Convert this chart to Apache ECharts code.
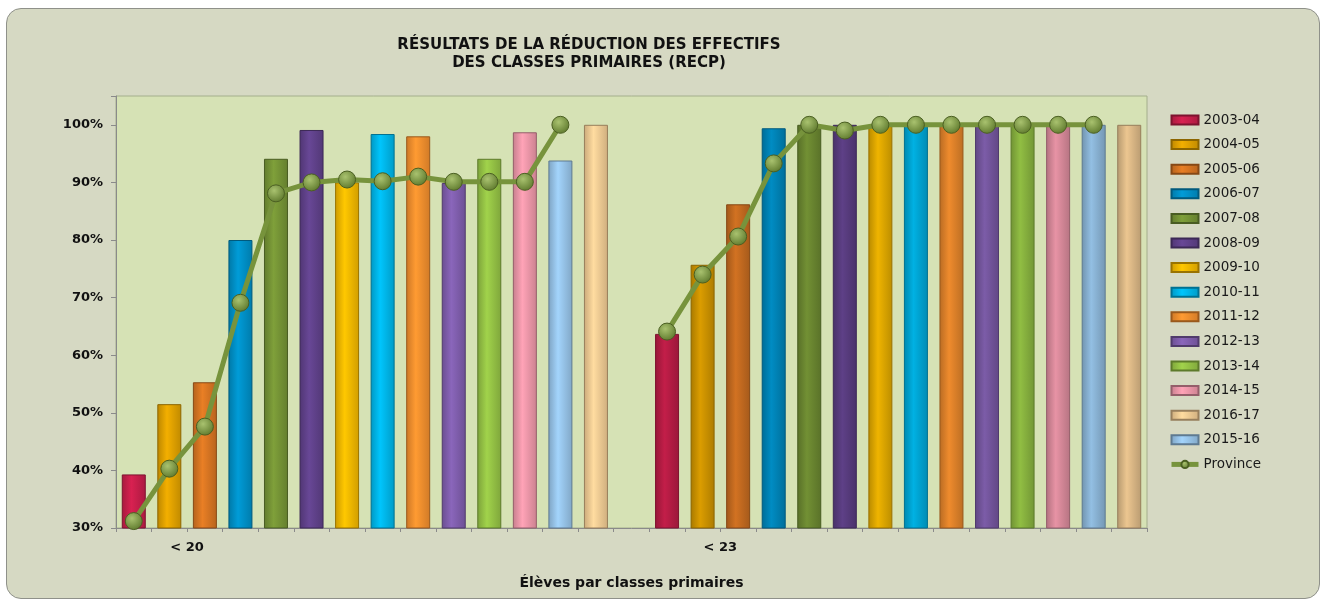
<!DOCTYPE html>
<html>
<head>
<meta charset="utf-8">
<title>RECP</title>
<script src="https://cdn.jsdelivr.net/npm/echarts@6/dist/echarts.min.js"></script>
<style>
	html, body {
		margin: 0;
		padding: 0;
		background: #ffffff;
	}
	.frame {
		position: absolute;
		left: 6px;
		top: 8px;
		width: 1312px;
		height: 589px;
		border: 1px solid #8f918a;
		border-radius: 15px;
		background: #d6d9c3;
	}
	#chart {
		position: absolute;
		left: 0;
		top: 0;
		width: 1325px;
		height: 600px;
	}
</style>
</head>
<body>
<div class="frame"></div>
<div id="chart"></div>
<script>
// années scolaires, dans l'ordre des barres
const seasons = ['2003-04', '2004-05', '2005-06', '2006-07', '2007-08', '2008-09', '2009-10',
	'2010-11', '2011-12', '2012-13', '2013-14', '2014-15', '2015-16', '2016-17'];
// ordre de la légende (comme dans l'original)
const legendOrder = ['2003-04', '2004-05', '2005-06', '2006-07', '2007-08', '2008-09', '2009-10',
	'2010-11', '2011-12', '2012-13', '2013-14', '2014-15', '2016-17', '2015-16', 'Province'];

// % de classes < 20 et < 23 élèves
const under20 = [39.3, 51.5, 55.3, 80.0, 94.1, 99.1, 90.0, 98.4, 98.0, 89.9, 94.1, 98.7, 93.8, 100];
const under23 = [63.7, 75.7, 86.2, 99.4, 100, 100, 100, 100, 100, 100, 100, 100, 100, 100];
// moyenne provinciale (13 points par groupe)
const province20 = [31.2, 40.3, 47.6, 69.1, 88.1, 90.0, 90.5, 90.2, 91.0, 90.1, 90.1, 90.1, 100];
const province23 = [64.1, 74.0, 80.6, 93.3, 100, 99.0, 100, 100, 100, 100, 100, 100, 100];

// étiquettes de l'axe X (placées sur les séparateurs)
const groupLabels = ['< 20', '< 23'];
const groupLabelAt = [2, 17];

const colors = ['#d0204e', '#eaa800', '#e07a24', '#0096d0', '#7a9a38', '#644490', '#ffc000',
	'#00bdf2', '#ff9530', '#8562b4', '#9bcb48', '#f79db0', '#9dccf2', '#fcd49a'];

const GAP = 1;
const nSlots = seasons.length * 2 + GAP;
const slotCats = Array.from({ length: nSlots }, (_, i) => 'c' + i);
const boundaryCats = Array.from({ length: nSlots + 1 }, (_, i) => {
	const k = groupLabelAt.indexOf(i);
	return k >= 0 ? groupLabels[k] : '';
});

const shade = (hex, f) => {
	const n = parseInt(hex.slice(1), 16);
	const r = Math.min(255, Math.round(((n >> 16) & 255) * f));
	const g = Math.min(255, Math.round(((n >> 8) & 255) * f));
	const b = Math.min(255, Math.round((n & 255) * f));
	return `rgb(${r}, ${g}, ${b})`;
};

const barFill = (hex, f) => new echarts.graphic.LinearGradient(0, 0, 1, 0, [
	{ offset: 0, color: shade(hex, 0.8 * f) },
	{ offset: 0.4, color: shade(hex, 1.04 * f) },
	{ offset: 1, color: shade(hex, 0.82 * f) },
]);

const barSeries = seasons.map((name, i) => {
	const data = new Array(nSlots).fill(null);
	data[i] = { value: under20[i] };
	data[seasons.length + GAP + i] = {
		value: under23[i],
		itemStyle: { color: barFill(colors[i], 0.9) },
	};
	return {
		name,
		type: 'bar',
		data,
		barWidth: 24,
		barGap: '-100%',
		itemStyle: {
			color: barFill(colors[i], 1),
			borderColor: shade(colors[i], 0.6),
			borderWidth: 1,
		},
	};
});

const provinceData = new Array(nSlots).fill(null);
province20.forEach((v, i) => { provinceData[i] = v; });
province23.forEach((v, i) => { provinceData[seasons.length + GAP + i] = v; });

const chart = echarts.init(document.getElementById('chart'));

chart.setOption({
	animation: false,
	title: {
		text: 'RÉSULTATS DE LA RÉDUCTION DES EFFECTIFS\nDES CLASSES PRIMAIRES (RECP)',
		left: 584,
		top: 31,
		textAlign: 'center',
		textStyle: {
			fontFamily: 'DejaVu Sans',
			fontSize: 15,
			fontWeight: 'bold',
			color: '#111',
			lineHeight: 18,
		},
	},
	legend: {
		data: legendOrder.map((name) => (name === 'Province'
			? { name, lineStyle: { width: 5 } }
			: { name, icon: 'rect' })),
		orient: 'vertical',
		left: 1164,
		top: 108,
		itemWidth: 27,
		itemHeight: 9,
		itemGap: 10.6,
		textStyle: {
			fontFamily: 'DejaVu Sans',
			fontSize: 13.5,
			color: '#1a1a1a',
		},
	},
	grid: {
		left: 116,
		right: 178,
		top: 96,
		bottom: 72,
		show: true,
		backgroundColor: '#d6e2b5',
		borderColor: '#a4ae8c',
		borderWidth: 1,
	},
	xAxis: [
		{
			type: 'category',
			data: slotCats,
			show: false,
		},
		{
			type: 'category',
			data: boundaryCats,
			boundaryGap: false,
			position: 'bottom',
			axisLine: { onZero: false, lineStyle: { color: '#8a8a8a', width: 1 } },
			axisTick: { show: true, interval: 0, length: 4, lineStyle: { color: '#8a8a8a' } },
			axisLabel: {
				interval: 0,
				margin: 13,
				fontFamily: 'DejaVu Sans',
				fontSize: 13,
				fontWeight: 'bold',
				color: '#111',
			},
			name: 'Élèves par classes primaires',
			nameLocation: 'middle',
			nameGap: 48,
			nameTextStyle: {
				fontFamily: 'DejaVu Sans',
				fontSize: 14,
				fontWeight: 'bold',
				color: '#111',
			},
		},
	],
	yAxis: {
		type: 'value',
		min: 30,
		max: 105,
		interval: 10,
		axisLine: { show: true, lineStyle: { color: '#8a8a8a' } },
		axisTick: { show: true, length: 5, lineStyle: { color: '#8a8a8a' } },
		splitLine: { show: false },
		axisLabel: {
			margin: 13,
			fontFamily: 'DejaVu Sans',
			fontSize: 13,
			fontWeight: 'bold',
			color: '#111',
			formatter: (v) => (v % 10 === 0 ? v + '%' : ''),
		},
	},
	series: [
		...barSeries,
		{
			name: 'Province',
			type: 'line',
			data: provinceData,
			connectNulls: false,
			z: 5,
			symbol: 'circle',
			symbolSize: 17,
			lineStyle: { color: '#77933c', width: 5 },
			itemStyle: {
				color: new echarts.graphic.RadialGradient(0.4, 0.35, 0.7, [
					{ offset: 0, color: '#a9c26f' },
					{ offset: 1, color: '#5c772b' },
				]),
				borderColor: '#4b5f22',
				borderWidth: 1,
			},
		},
	],
});
</script>
</body>
</html>
